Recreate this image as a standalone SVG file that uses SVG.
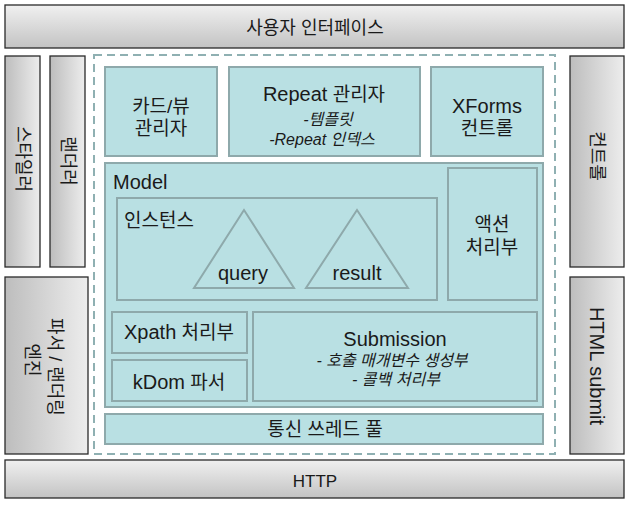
<svg xmlns="http://www.w3.org/2000/svg" width="630" height="508" viewBox="0 0 630 508">
<defs>
<linearGradient id="gv" x1="0" y1="0" x2="0" y2="1"><stop offset="0" stop-color="#f0f0f0"/><stop offset="1" stop-color="#c3c3c3"/></linearGradient>
<linearGradient id="gh" x1="0" y1="0" x2="1" y2="0"><stop offset="0" stop-color="#bdbdbd"/><stop offset="1" stop-color="#ededed"/></linearGradient>
</defs>
<style>
text{font-family:"Liberation Sans","Noto Sans CJK KR",sans-serif;fill:#1a1a1a;}
.gbar{fill:url(#gv);stroke:#2a2a2a;stroke-width:1.3;}
.gside{fill:url(#gh);stroke:#2a2a2a;stroke-width:1.3;}
.tb{fill:#b9e0e3;stroke:#8ea9ab;stroke-width:2;}
.tri{fill:none;stroke:#8ea9ab;stroke-width:2;}
.t18{font-size:18px;}
.t19{font-size:19px;}
.t20{font-size:20px;}
.it{font-size:16px;font-style:italic;}
.c{text-anchor:middle;}
.r{text-anchor:middle;dominant-baseline:central;}
</style>
<g id="ui"><rect class="gbar" x="5" y="5" width="619" height="43"/><text class="t18 c" x="315" y="34">사용자 인터페이스</text></g>
<g id="styler"><rect class="gside" x="5" y="56" width="35" height="211"/><text class="t18 r" transform="translate(22.5,159) rotate(90)">스타일러</text></g>
<g id="renderer"><rect class="gside" x="50" y="56" width="35" height="211"/><text class="t18 r" transform="translate(67.5,161) rotate(90)">랜더러</text></g>
<g id="parser"><rect class="gside" x="5" y="277" width="83" height="177"/><text class="t18 r" transform="translate(55,367) rotate(90)">파서 / 랜더링</text><text class="t18 r" transform="translate(32,360) rotate(90)">엔진</text></g>
<g id="control"><rect class="gside" x="570" y="56" width="54" height="211"/><text class="t18 r" transform="translate(597,156) rotate(90)">컨트롤</text></g>
<g id="htmlsubmit"><rect class="gside" x="570" y="277" width="54" height="177"/><text class="t20 r" transform="translate(597,366) rotate(90)">HTML submit</text></g>
<g id="http"><rect class="gbar" x="5" y="460" width="619" height="38"/><text class="c" style="font-size:17px" x="315" y="487">HTTP</text></g>
<g id="container"><rect x="94" y="55" width="461" height="399" fill="none" stroke="#8fb0b2" stroke-width="2" stroke-dasharray="8,5"/></g>
<g id="cardview"><rect class="tb" x="105" y="67" width="112" height="89"/><text class="t19 c" x="161" y="113">카드/뷰</text><text class="t19 c" x="161" y="135">관리자</text></g>
<g id="repeat"><rect class="tb" x="229" y="67" width="191" height="89"/><text class="t19 c" x="324" y="101"><tspan style="font-size:20px">Repeat</tspan> 관리자</text><text class="it c" x="328" y="125">-템플릿</text><text class="it c" x="322" y="145">-Repeat 인덱스</text></g>
<g id="xforms"><rect class="tb" x="431" y="67" width="112" height="89"/><text class="t20 c" x="487" y="113">XForms</text><text class="t19 c" x="487" y="135">컨트롤</text></g>
<g id="model"><rect class="tb" x="105" y="163" width="438" height="244"/><text class="t20" x="113" y="189">Model</text></g>
<g id="instance"><rect class="tb" x="117" y="198" width="320" height="102"/><text class="t19" x="124" y="227">인스턴스</text>
<polygon class="tri" points="244,210 194,288 294,288"/><text class="t20 c" x="243" y="280">query</text>
<polygon class="tri" points="357,210 306,288 408,288"/><text class="t20 c" x="357" y="280">result</text></g>
<g id="action"><rect class="tb" x="448" y="168" width="89" height="132"/><text class="t19 c" x="492" y="231">액션</text><text class="t19 c" x="492" y="254">처리부</text></g>
<g id="xpath"><rect class="tb" x="112" y="312" width="135" height="41"/><text class="t19 c" x="179" y="339"><tspan style="font-size:20px">Xpath</tspan> 처리부</text></g>
<g id="kdom"><rect class="tb" x="112" y="360" width="135" height="41"/><text class="t19 c" x="179" y="389"><tspan style="font-size:20px">kDom</tspan> 파서</text></g>
<g id="submission"><rect class="tb" x="253" y="312" width="284" height="89"/><text class="t20 c" x="395" y="346">Submission</text><text class="it c" x="392" y="366">- 호출 매개변수 생성부</text><text class="it c" x="396" y="385">- 콜백 처리부</text></g>
<g id="thread"><rect class="tb" x="105" y="414" width="438" height="30"/><text class="t19 c" x="325" y="436">통신 쓰레드 풀</text></g>
<g id="connectors"></g>
</svg>
